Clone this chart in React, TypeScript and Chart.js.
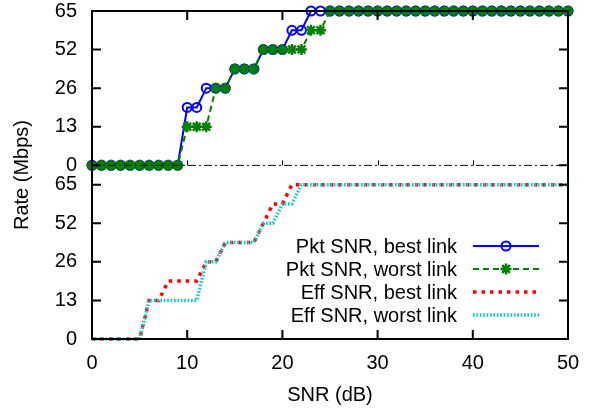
import React, { useEffect, useRef } from "react";
import { Chart, registerables } from "chart.js";

Chart.register(...registerables);

// SNR axis (dB)
const SNR_DB = [
  0, 1, 2, 3, 4, 5, 6, 7, 8, 9, 10, 11, 12, 13, 14, 15, 16, 17, 18, 19, 20, 21, 22, 23, 24, 25,
  26, 27, 28, 29, 30, 31, 32, 33, 34, 35, 36, 37, 38, 39, 40, 41, 42, 43, 44, 45, 46, 47, 48, 49, 50,
];

// ordinal rate levels (Mbps) used for the y position
const RATE_LEVELS = [0, 6.5, 13, 19.5, 26, 39, 52, 58.5, 65];
const Y_TICK_RATES = [0, 13, 26, 52, 65];
const X_TICKS = [0, 10, 20, 30, 40, 50];
const PANEL_GAP = 1; // one level gap between panels

// Top panel
const PKT_BEST = [
  0, 0, 0, 0, 0, 0, 0, 0, 0, 0, 19.5, 19.5, 26, 26, 26, 39, 39, 39, 52, 52, 52, 58.5, 58.5, 65, 65, 65,
  65, 65, 65, 65, 65, 65, 65, 65, 65, 65, 65, 65, 65, 65, 65, 65, 65, 65, 65, 65, 65, 65, 65, 65, 65,
];
const PKT_WORST = [
  0, 0, 0, 0, 0, 0, 0, 0, 0, 0, 13, 13, 13, 26, 26, 39, 39, 39, 52, 52, 52, 52, 52, 58.5, 58.5, 65,
  65, 65, 65, 65, 65, 65, 65, 65, 65, 65, 65, 65, 65, 65, 65, 65, 65, 65, 65, 65, 65, 65, 65, 65, 65,
];
// Bottom panel
const EFF_BEST = [
  0, 0, 0, 0, 0, 0, 13, 13, 19.5, 19.5, 19.5, 19.5, 26, 26, 39, 39, 39, 39, 52, 58.5, 58.5, 65, 65, 65, 65, 65,
  65, 65, 65, 65, 65, 65, 65, 65, 65, 65, 65, 65, 65, 65, 65, 65, 65, 65, 65, 65, 65, 65, 65, 65, 65,
];
const EFF_WORST = [
  0, 0, 0, 0, 0, 0, 13, 13, 13, 13, 13, 13, 26, 26, 39, 39, 39, 39, 52, 52, 58.5, 58.5, 65, 65, 65, 65,
  65, 65, 65, 65, 65, 65, 65, 65, 65, 65, 65, 65, 65, 65, 65, 65, 65, 65, 65, 65, 65, 65, 65, 65, 65,
];

const FONT = "'Liberation Sans', Arial, Helvetica, sans-serif";
const NLEV = RATE_LEVELS.length - 1; // 8
const TOP_OFFSET = NLEV + PANEL_GAP; // 9
const Y_MAX = TOP_OFFSET + NLEV; // 17

const lvl = (r: number) => RATE_LEVELS.indexOf(r);
const toPts = (vals: number[], off: number) => vals.map((v, i) => ({ x: SNR_DB[i], y: lvl(v) + off }));

const Y_TICK_POS = [
  ...Y_TICK_RATES.map((r) => lvl(r)),
  ...Y_TICK_RATES.map((r) => lvl(r) + TOP_OFFSET),
];

function drawStar(ctx: CanvasRenderingContext2D, x: number, y: number, r: number) {
  ctx.beginPath();
  for (let k = 0; k < 4; k++) {
    const a = (k * Math.PI) / 4;
    ctx.moveTo(x - r * Math.cos(a), y - r * Math.sin(a));
    ctx.lineTo(x + r * Math.cos(a), y + r * Math.sin(a));
  }
  ctx.stroke();
}

const framePlugin = {
  id: "frame",
  afterDatasetsDraw(chart: any) {
    const { ctx, chartArea } = chart;
    const { left, right, top, bottom } = chartArea;
    const xs = chart.scales.x;
    const ys = chart.scales.y;
    ctx.save();
    // zero axis of top panel
    const y0 = ys.getPixelForValue(TOP_OFFSET);
    ctx.strokeStyle = "#000";
    ctx.lineWidth = 1;
    ctx.setLineDash([8, 3, 2, 3]);
    ctx.beginPath();
    ctx.moveTo(left, y0);
    ctx.lineTo(right, y0);
    ctx.stroke();
    ctx.setLineDash([]);
    ctx.beginPath();
    X_TICKS.slice(1, -1).forEach((t) => {
      const px = Math.round(xs.getPixelForValue(t)) + 0.5;
      ctx.moveTo(px, y0);
      ctx.lineTo(px, y0 - 5);
    });
    ctx.stroke();
    // border
    ctx.lineWidth = 2;
    ctx.strokeRect(left, top, right - left, bottom - top);
    // tick marks
    const TL = 9;
    ctx.beginPath();
    X_TICKS.forEach((t) => {
      const px = xs.getPixelForValue(t);
      ctx.moveTo(px, bottom);
      ctx.lineTo(px, bottom - TL);
      ctx.moveTo(px, top);
      ctx.lineTo(px, top + TL);
    });
    Y_TICK_POS.forEach((v) => {
      const py = ys.getPixelForValue(v);
      ctx.moveTo(left, py);
      ctx.lineTo(left + TL, py);
      ctx.moveTo(right, py);
      ctx.lineTo(right - TL, py);
    });
    ctx.stroke();
    ctx.restore();
  },
  afterDraw(chart: any) {
    const { ctx } = chart;
    const ds = chart.data.datasets;
    const textX = 457;
    const x1 = 473;
    const x2 = 539;
    const rows = [246, 269, 292, 315];
    ctx.save();
    ctx.font = `20px ${FONT}`;
    ctx.textAlign = "right";
    ctx.textBaseline = "middle";
    ds.forEach((d: any, i: number) => {
      const y = rows[i];
      ctx.fillStyle = "#000";
      ctx.fillText(d.label, textX, y + 1);
      ctx.strokeStyle = d.borderColor;
      ctx.lineWidth = d.borderWidth;
      ctx.lineCap = "butt";
      ctx.setLineDash(d.borderDash || []);
      ctx.beginPath();
      ctx.moveTo(x1, y);
      ctx.lineTo(x2, y);
      ctx.stroke();
      ctx.setLineDash([]);
      const mx = (x1 + x2) / 2;
      if (d.pointRadius > 0) {
        ctx.lineWidth = d.pointBorderWidth;
        if (d.pointStyle === "circle") {
          ctx.beginPath();
          ctx.arc(mx, y, d.pointRadius, 0, Math.PI * 2);
          ctx.stroke();
        } else {
          drawStar(ctx, mx, y, d.pointRadius);
        }
      }
    });
    ctx.restore();
  },
};

export default function App() {
  const ref = useRef<HTMLCanvasElement>(null);
  useEffect(() => {
    if (!ref.current) return;
    const chart = new Chart(ref.current, {
      type: "line",
      data: {
        datasets: [
          {
            label: "Pkt SNR, best link",
            data: toPts(PKT_BEST, TOP_OFFSET),
            borderColor: "#0000ff",
            borderWidth: 2,
            pointStyle: "circle",
            pointRadius: 4.5,
            pointBorderWidth: 2,
            pointBorderColor: "#0000ff",
            pointBackgroundColor: "rgba(0,0,0,0)",
            tension: 0,
            clip: false,
            order: 3,
          },
          {
            label: "Pkt SNR, worst link",
            data: toPts(PKT_WORST, TOP_OFFSET),
            borderColor: "#008000",
            borderWidth: 2,
            borderDash: [6, 4],
            pointStyle: "star",
            pointRadius: 5.5,
            pointBorderWidth: 2.5,
            pointBorderColor: "#008000",
            pointBackgroundColor: "#008000",
            tension: 0,
            clip: false,
            order: 2,
          },
          {
            label: "Eff SNR, best link",
            data: toPts(EFF_BEST, 0),
            borderColor: "#ff0000",
            borderWidth: 3.5,
            borderDash: [3.5, 5],
            pointRadius: 0,
            tension: 0,
            clip: false,
            order: 1,
          },
          {
            label: "Eff SNR, worst link",
            data: toPts(EFF_WORST, 0),
            borderColor: "#1ec8c8",
            borderWidth: 3.5,
            borderDash: [1.7, 1.7],
            pointRadius: 0,
            tension: 0,
            clip: false,
            order: 0,
          },
        ] as any,
      },
      options: {
        responsive: false,
        animation: false,
        layout: { padding: { left: 0, top: 11, right: 28, bottom: 0 } },
        plugins: { legend: { display: false }, tooltip: { enabled: false } },
        scales: {
          x: {
            type: "linear",
            min: 0,
            max: 50,
            grid: { display: false, drawTicks: false },
            border: { display: false },
            afterBuildTicks: (s: any) => {
              s.ticks = X_TICKS.map((v) => ({ value: v }));
            },
            afterFit: (s: any) => {
              s.height = 72;
              s.paddingLeft = 0;
              s.paddingRight = 0;
            },
            ticks: {
              color: "#000",
              font: { family: FONT, size: 20 },
              padding: 12,
              maxRotation: 0,
              autoSkip: false,
            },
            title: {
              display: true,
              text: "SNR (dB)",
              color: "#000",
              font: { family: FONT, size: 20 },
              padding: { top: 0, bottom: 4 },
            },
          },
          y: {
            type: "linear",
            min: 0,
            max: Y_MAX,
            grid: { display: false, drawTicks: false },
            border: { display: false },
            afterBuildTicks: (s: any) => {
              s.ticks = Y_TICK_POS.map((v) => ({ value: v }));
            },
            afterFit: (s: any) => {
              s.width = 92;
              s.paddingTop = 0;
              s.paddingBottom = 0;
            },
            ticks: {
              color: "#000",
              font: { family: FONT, size: 20 },
              padding: 15,
              autoSkip: false,
              callback: (v: any) => {
                const idx = v >= TOP_OFFSET ? v - TOP_OFFSET : v;
                return String(RATE_LEVELS[idx]);
              },
            },
            title: {
              display: true,
              text: "Rate (Mbps)",
              color: "#000",
              font: { family: FONT, size: 20 },
              padding: { top: 10, bottom: 0 },
            },
          },
        },
      } as any,
      plugins: [framePlugin],
    });
    return () => chart.destroy();
  }, []);
  return (
    <div style={{ position: "absolute", left: 0, top: 0, width: 596, height: 411, background: "#fff" }}>
      <canvas ref={ref} width={596} height={411} style={{ display: "block", width: 596, height: 411 }} />
    </div>
  );
}
